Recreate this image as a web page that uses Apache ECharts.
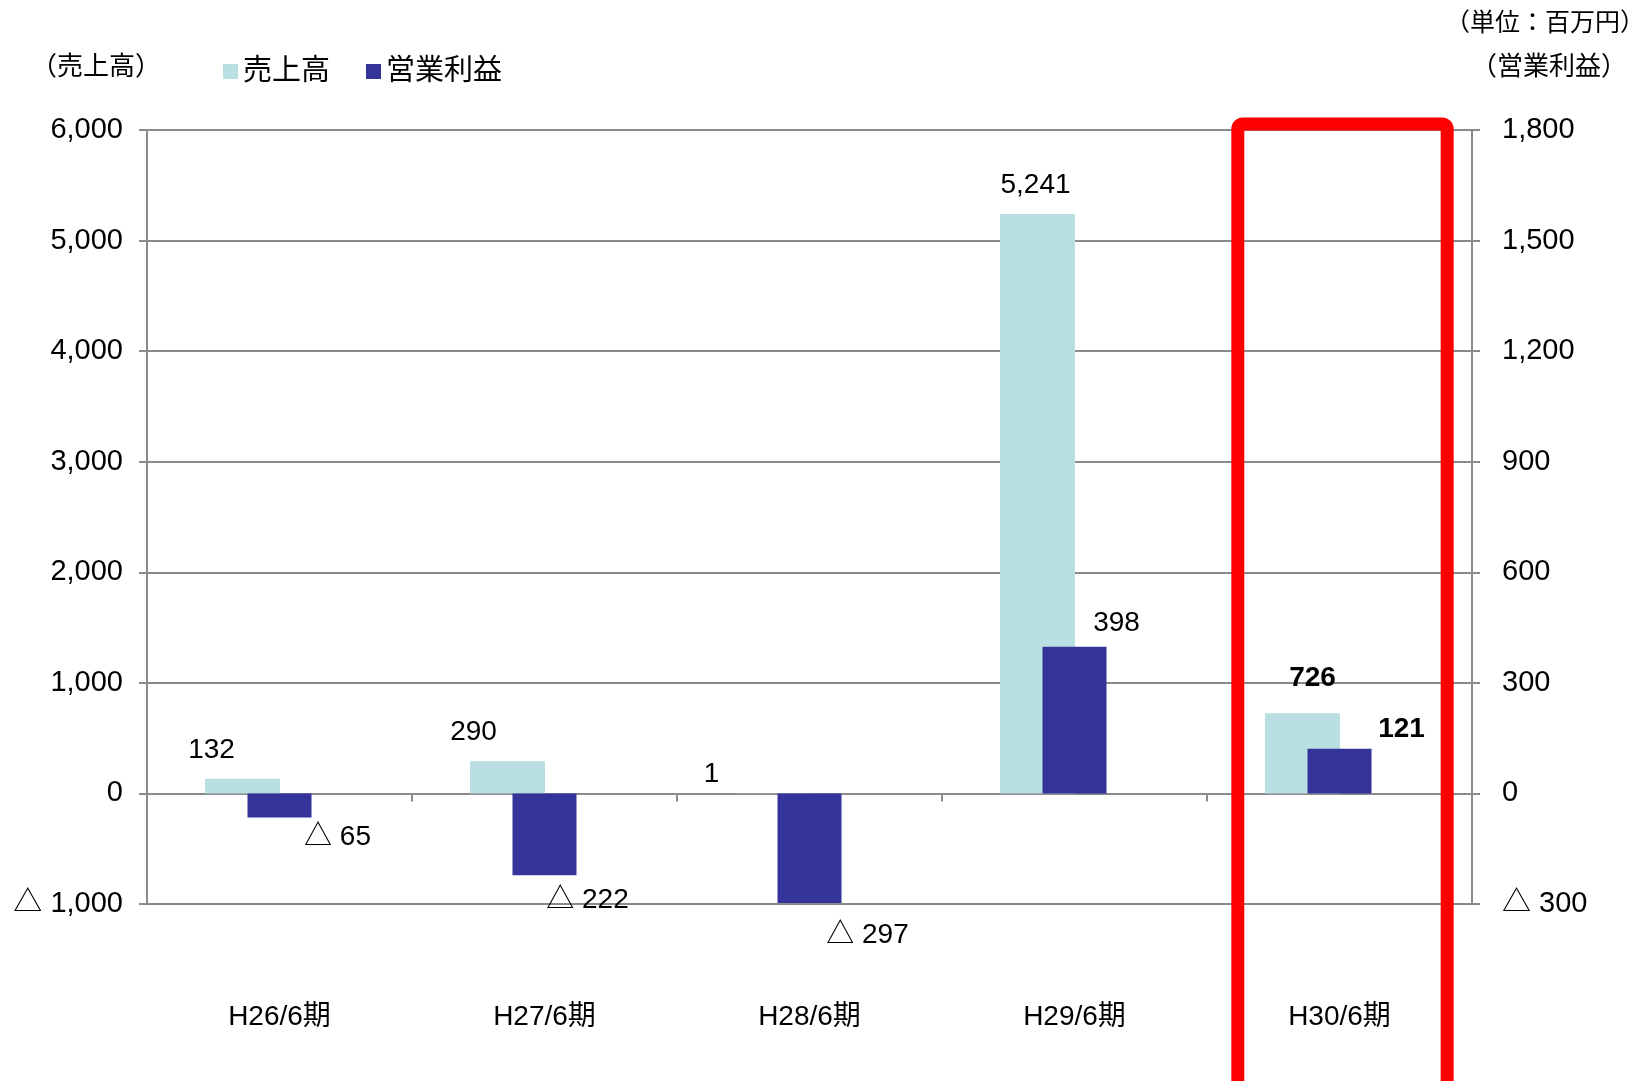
<!DOCTYPE html>
<html>
<head>
<meta charset="UTF-8">
<title>売上高・営業利益</title>
<script src="https://cdn.jsdelivr.net/npm/echarts@6/dist/echarts.min.js"></script>
<style>
html, body { margin: 0; padding: 0; background: #fff; }
#main { width: 1649px; height: 1081px; }
</style>
</head>
<body>
<div id="main"></div>
<script>
// 期ごとのデータ（単位：百万円）
var categories = ['H26/6期', 'H27/6期', 'H28/6期', 'H29/6期', 'H30/6期'];
var sales = [132, 290, 1, 5241, 726];
var profit = [-65, -222, -297, 398, 121];
var highlight = 'H30/6期';

// 軸の目盛
var salesTicks = [-1000, 0, 1000, 2000, 3000, 4000, 5000, 6000];
var profitTicks = [-300, 0, 300, 600, 900, 1200, 1500, 1800];

var FONT = "'Liberation Sans', 'Noto Sans CJK JP', sans-serif";
var GRAY = '#8a8a8a';

function fmt(v) {
    var s = Math.abs(v).toLocaleString('en-US');
    return v < 0 ? '△ ' + s : s;
}

// ラベルの微調整
var salesNudge = [[-31, -10], [-34, -10], [-61, 0], [-2, -10], [10, -16]];
var profitNudge = [[58, 1], [43, 6], [58, 13], [42, -4], [62, -1]];

var salesData = sales.map(function (v, i) {
    return {
        value: v,
        label: {
            offset: salesNudge[i],
            fontWeight: categories[i] === highlight ? 'bold' : 'normal'
        }
    };
});
var profitData = profit.map(function (v, i) {
    return {
        value: v,
        label: {
            position: v < 0 ? 'bottom' : 'top',
            offset: profitNudge[i],
            fontWeight: categories[i] === highlight ? 'bold' : 'normal'
        }
    };
});

var chart = echarts.init(document.getElementById('main'));

var option = {
    backgroundColor: '#fff',
    animation: false,
    textStyle: { fontFamily: FONT },
    title: [
        { text: '（売上高）', left: 26, top: 50, textStyle: { fontSize: 26, fontWeight: 'normal', color: '#000', fontFamily: FONT } },
        { text: '（単位：百万円）', left: 1440, top: 7, textStyle: { fontSize: 25, fontWeight: 'normal', color: '#000', fontFamily: FONT } },
        { text: '（営業利益）', left: 1466, top: 50, textStyle: { fontSize: 26, fontWeight: 'normal', color: '#000', fontFamily: FONT } }
    ],
    legend: {
        data: ['売上高', '営業利益'],
        left: 218,
        top: 52,
        icon: 'rect',
        itemWidth: 15,
        itemHeight: 15,
        itemGap: 36,
        textStyle: { fontSize: 29, color: '#000', fontFamily: FONT }
    },
    grid: { left: 147, right: 177, top: 130, bottom: 177, outerBoundsMode: 'none', containLabel: false },
    xAxis: [
        {
            type: 'category',
            data: categories,
            position: 'bottom',
            axisLine: { onZero: true, lineStyle: { color: GRAY, width: 2 } },
            axisTick: { show: true, length: 8, lineStyle: { color: GRAY, width: 2 } },
            axisLabel: { margin: 99, fontSize: 28, color: '#000', fontFamily: FONT }
        },
        {
            type: 'category',
            data: categories,
            position: 'bottom',
            show: false
        }
    ],
    yAxis: [
        {
            type: 'value',
            min: salesTicks[0],
            max: salesTicks[salesTicks.length - 1],
            interval: salesTicks[1] - salesTicks[0],
            position: 'left',
            axisLine: { show: true, lineStyle: { color: GRAY, width: 2 } },
            axisTick: { show: true, length: 8, lineStyle: { color: GRAY, width: 2 } },
            axisLabel: { margin: 24, fontSize: 29, color: '#000', fontFamily: FONT, formatter: fmt },
            splitLine: { show: true, lineStyle: { color: GRAY, width: 2 } }
        },
        {
            type: 'value',
            min: profitTicks[0],
            max: profitTicks[profitTicks.length - 1],
            interval: profitTicks[1] - profitTicks[0],
            position: 'right',
            axisLine: { show: true, lineStyle: { color: GRAY, width: 2 } },
            axisTick: { show: true, length: 8, lineStyle: { color: GRAY, width: 2 } },
            axisLabel: { margin: 30, fontSize: 29, color: '#000', fontFamily: FONT, formatter: fmt },
            splitLine: { show: false }
        }
    ],
    series: [
        {
            name: '売上高',
            type: 'bar',
            xAxisIndex: 1,
            yAxisIndex: 0,
            barWidth: 75,
            barGap: '0%',
            itemStyle: { color: '#b9dfe2' },
            label: { show: true, position: 'top', fontSize: 28, color: '#000', fontFamily: FONT, formatter: function (p) { return fmt(p.value); } },
            data: salesData,
            z: 2
        },
        {
            // 売上高の棒を左へずらすための空の列
            name: 'spacer',
            type: 'bar',
            xAxisIndex: 1,
            yAxisIndex: 0,
            barWidth: 74,
            barGap: '0%',
            silent: true,
            data: []
        },
        {
            name: '営業利益',
            type: 'bar',
            xAxisIndex: 0,
            yAxisIndex: 1,
            barWidth: 64,
            itemStyle: { color: '#333399' },
            label: { show: true, fontSize: 28, color: '#000', fontFamily: FONT, formatter: function (p) { return fmt(p.value); } },
            data: profitData,
            z: 3
        }
    ]
};

chart.setOption(option);

// 強調枠（H30/6期）
var cx = chart.convertToPixel({ xAxisIndex: 0 }, highlight);
var band = chart.getModel().getComponent('xAxis', 0).axis.getBandWidth();
var topY = chart.convertToPixel({ yAxisIndex: 0 }, salesTicks[salesTicks.length - 1]);
chart.setOption({
    graphic: [{
        type: 'rect',
        shape: { x: cx + 3 - band * 0.395, y: topY - 6, width: band * 0.79, height: 1200, r: 5 },
        style: { fill: 'none', stroke: '#ff0000', lineWidth: 13 },
        z: 10
    }]
});
</script>
</body>
</html>
